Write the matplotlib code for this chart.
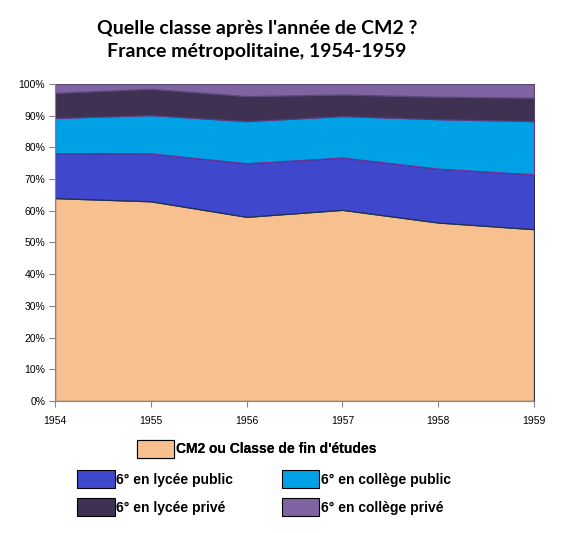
import matplotlib.pyplot as plt
from matplotlib.patches import Patch
from matplotlib.ticker import PercentFormatter

# Données (en % des élèves de CM2)
annees = [1954, 1955, 1956, 1957, 1958, 1959]
cm2_fin_etudes = [64.0, 63.0, 58.1, 60.3, 56.3, 54.2]
lycee_public = [14.2, 15.1, 16.9, 16.5, 17.0, 17.3]
college_public = [11.1, 12.1, 13.3, 13.1, 15.6, 16.8]
lycee_prive = [7.9, 8.3, 7.9, 6.8, 7.1, 7.4]
college_prive = [2.8, 1.5, 3.8, 3.3, 4.0, 4.3]

noms = ["CM2 ou Classe de fin d'études", "6° en lycée public", "6° en collège public",
        "6° en lycée privé", "6° en collège privé"]
couleurs = ['#F9C08F', '#3F48CC', '#00A2E5', '#3F3151', '#8064A2']
bords = ['#1F3050', '#1F3050', '#7030A0', '#5A3A7A', '#5A4A7A']

fig = plt.figure(figsize=(5.8, 5.33), dpi=100)
ax = fig.add_axes([0.0948, 0.2477, 0.8259, 0.5947])

polys = ax.stackplot(annees, cm2_fin_etudes, lycee_public, college_public,
                     lycee_prive, college_prive, colors=couleurs, linewidth=0.9)
for p, b in zip(polys, bords):
    p.set_edgecolor(b)

ax.set_xlim(1954, 1959)
ax.set_ylim(0, 100)
ax.set_yticks(range(0, 101, 10))
ax.yaxis.set_major_formatter(PercentFormatter(decimals=0))
ax.set_xticks(annees)
ax.tick_params(labelsize=7.5, length=4, color='#868686', pad=3)
ax.tick_params(axis='x', pad=7)
for lab in ax.get_xticklabels() + ax.get_yticklabels():
    lab.set_family('Liberation Sans')
for s in ['top', 'right']:
    ax.spines[s].set_visible(False)
for s in ['left', 'bottom']:
    ax.spines[s].set_color('#868686')

fig.text(0.443, 0.962, "Quelle classe après l'année de CM2 ?\nFrance métropolitaine, 1954-1959",
         ha='center', va='top', fontsize=14, fontweight='bold', family='Lato',
         linespacing=1.4)

# Légende
h = [Patch(facecolor=c, edgecolor='black', linewidth=0.8) for c in couleurs]
police = {'family': 'Liberation Sans', 'weight': 'bold', 'size': 10}
leg1 = fig.legend([h[0]], [noms[0]], loc='center', bbox_to_anchor=(0.442, 0.158),
                  frameon=False, prop=police, handlelength=2.7, handleheight=1.6,
                  handletextpad=0.1)
leg2 = fig.legend([h[1], h[3], h[2], h[4]], [noms[1], noms[3], noms[2], noms[4]],
                  ncol=2, loc='center', bbox_to_anchor=(0.455, 0.0745), frameon=False,
                  prop=police, handlelength=2.7, handleheight=1.6, handletextpad=0.1,
                  columnspacing=3.5, labelspacing=0.75)
fig.add_artist(leg1)

fig.savefig('out.png', dpi=100)
